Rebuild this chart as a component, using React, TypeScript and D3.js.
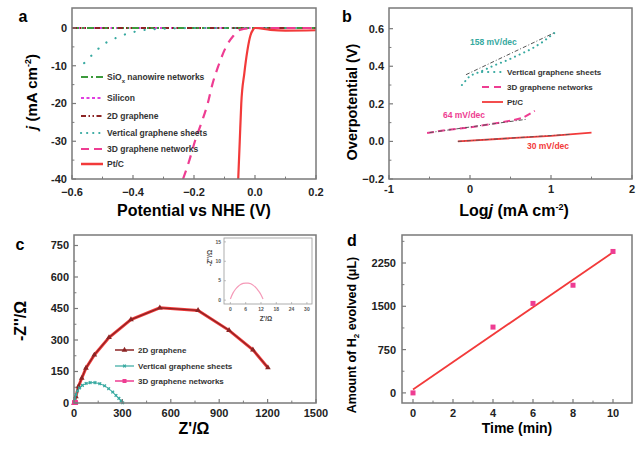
import * as d3 from "d3"

const FONT = "'Liberation Sans', Arial, sans-serif"

// ---- panel a : polarization curves ----
const aPotFlat = [-0.6, 0.2]
const aCurFlat = [0, 0]
const aPotVGS = [-0.56, -0.525, -0.5, -0.466, -0.433, -0.4, -0.37, -0.3, -0.2, -0.1, 0, 0.1, 0.2]
const aCurVGS = [-9.3, -6.4, -4.5, -3, -1.9, -1.1, -0.6, -0.2, 0, 0, 0, 0, 0]
const aPot3D = [-0.236, -0.215, -0.197, -0.175, -0.155, -0.14, -0.12, -0.095, -0.07, -0.05, 0.0, 0.1, 0.2]
const aCur3D = [-40, -35, -30, -25, -20, -15, -10, -5, -2, -0.5, 0, 0, 0]
const aPotPt = [-0.055, -0.05, -0.045, -0.035, -0.025, -0.015, -0.006, 0.0, 0.05, 0.1, 0.2]
const aCurPt = [-40, -30, -20, -12, -6, -2, -0.4, 0, -0.5, -0.7, -0.6]
const aXTicks = [-0.6, -0.4, -0.2, 0.0, 0.2]
const aYTicks = [0, -10, -20, -30, -40]

// ---- panel b : Tafel plots ----
const bLogVGS = [-0.1, 0.0, 0.15, 0.3, 0.45, 0.6, 0.75, 0.9, 1.05]
const bEtaVGS = [0.3, 0.35, 0.375, 0.405, 0.43, 0.46, 0.49, 0.53, 0.58]
const bFitVGSx = [-0.05, 1.05]
const bFitVGSy = [0.355, 0.58]
const bLog3D = [-0.53, -0.3, 0, 0.3, 0.5, 0.65, 0.8]
const bEta3D = [0.045, 0.06, 0.075, 0.095, 0.11, 0.125, 0.163]
const bFit3Dx = [-0.5, 0.7]
const bFit3Dy = [0.047, 0.118]
const bLogPt = [-0.15, 0.5, 1.0, 1.5]
const bEtaPt = [0, 0.017, 0.03, 0.047]
const bFitPtx = [-0.15, 1.25]
const bFitPty = [0, 0.038]
const bXTicks = [-1, 0, 1, 2]
const bYTicks = [-0.2, 0.0, 0.2, 0.4, 0.6]

// ---- panel c : Nyquist plots ----
const cRe2D = [0, 12, 27, 48, 74, 126, 217, 353, 532, 769, 961, 1109, 1202]
const cIm2D = [0, 30, 78, 118, 166, 229, 312, 397, 453, 441, 346, 253, 168]
const cReVGS = [0, 5, 12, 22, 35, 52, 75, 100, 130, 160, 190, 215, 240, 260, 278, 292, 302]
const cImVGS = [0, 20, 40, 58, 72, 84, 93, 97, 97, 92, 82, 68, 52, 36, 22, 10, 1]
const cRe3D = [0, 1, 2, 3, 4, 5, 6, 7, 8, 9, 10, 11, 12, 12.8]
const cIm3D = [0.3, 1.8, 2.8, 3.5, 4.0, 4.3, 4.4, 4.4, 4.2, 3.8, 3.2, 2.4, 1.4, 0.3]
const cXTicks = [0, 300, 600, 900, 1200, 1500]
const cYTicks = [0, 150, 300, 450, 600, 750]
const insetXTicks = [0, 6, 12, 18, 24, 30]
const insetYTicks = [0, 5, 10, 15]

// ---- panel d : H2 evolution ----
const dTime = [0, 4, 6, 8, 10]
const dAmount = [0, 1140, 1550, 1865, 2450]
const dFitT = [0, 10]
const dFitA = [60, 2435]
const dXTicks = [0, 2, 4, 6, 8, 10]
const dYTicks = [0, 750, 1500, 2250]

const C = {
  pt: "#f23a3a",
  g3d: "#ee3d92",
  vgs: "#36a9a0",
  sio2: "#3c9a3c",
  si: "#e03fe0",
  g2d: "#8c2424",
  fit: "#555",
  frame: "#7a7a7a",
}

type Sc = d3.ScaleLinear<number, number>

function pts(xs: number[], ys: number[]): [number, number][] {
  return xs.map((v, i) => [v, ys[i]])
}

function Frame({ x, y, xTicks, yTicks, xMinor, yMinor, fmtX, fmtY, fs = 11, tl = 4, xLabY, yLabX, sw = 1.5, color = C.frame }: any) {
  const [x0, x1] = x.range()
  const [y0, y1] = y.range()
  return (
    <g fontFamily={FONT}>
      <rect x={x0} y={y1} width={x1 - x0} height={y0 - y1} fill="none" stroke={color} strokeWidth={sw} />
      {xMinor.map((t: number, i: number) => (
        <line key={"xm" + i} x1={x(t)} x2={x(t)} y1={y0} y2={y0 - tl * 0.6} stroke={color} strokeWidth={1} />
      ))}
      {yMinor.map((t: number, i: number) => (
        <line key={"ym" + i} x1={x0} x2={x0 + tl * 0.6} y1={y(t)} y2={y(t)} stroke={color} strokeWidth={1} />
      ))}
      {xTicks.map((t: number, i: number) => (
        <g key={"xt" + i}>
          <line x1={x(t)} x2={x(t)} y1={y0} y2={y0 - tl} stroke={color} strokeWidth={1.2} />
          <text x={x(t)} y={xLabY} textAnchor="middle" fontSize={fs} fontWeight="bold" fill="#222">{fmtX(t)}</text>
        </g>
      ))}
      {yTicks.map((t: number, i: number) => (
        <g key={"yt" + i}>
          <line x1={x0} x2={x0 + tl} y1={y(t)} y2={y(t)} stroke={color} strokeWidth={1.2} />
          <text x={yLabX} y={y(t)} dy="0.36em" textAnchor="end" fontSize={fs} fontWeight="bold" fill="#222">{fmtY(t)}</text>
        </g>
      ))}
    </g>
  )
}

function Curve({ x, y, xs, ys, stroke, w = 2, dash, curve = d3.curveMonotoneX, cap = "butt" }: any) {
  const line = d3.line<[number, number]>().x(d => x(d[0])).y(d => y(d[1])).curve(curve)
  return <path d={line(pts(xs, ys)) || ""} fill="none" stroke={stroke} strokeWidth={w} strokeDasharray={dash} strokeLinecap={cap} />
}

function LegendRow({ x, y, len, stroke, dash, w = 2, cap = "butt", label, fs = 8.5, marker }: any) {
  return (
    <g>
      <line x1={x} x2={x + len} y1={y} y2={y} stroke={stroke} strokeWidth={w} strokeDasharray={dash} strokeLinecap={cap} />
      {marker}
      <text x={x + len + 4} y={y} dy="0.35em" fontSize={fs} fontWeight="bold" fill="#333" fontFamily={FONT}>{label}</text>
    </g>
  )
}

function PanelA() {
  const x: Sc = d3.scaleLinear([-0.6, 0.2], [72, 316])
  const y: Sc = d3.scaleLinear([-40, 5.3], [179, 8])
  const clip = "clipA"
  return (
    <g>
      <clipPath id={clip}><rect x={72} y={8} width={244} height={171} /></clipPath>
      <g clipPath={`url(#${clip})`}>
        <Curve x={x} y={y} xs={aPotFlat} ys={aCurFlat} stroke={C.si} dash="2.5 3" curve={d3.curveLinear} />
        <Curve x={x} y={y} xs={aPotFlat} ys={aCurFlat} stroke={C.sio2} dash="7 3 2 3" curve={d3.curveLinear} />
        <Curve x={x} y={y} xs={aPotFlat} ys={aCurFlat} stroke={C.g2d} dash="5 3 1.5 3 1.5 9" curve={d3.curveLinear} />
        <Curve x={x} y={y} xs={aPotVGS} ys={aCurVGS} stroke={C.vgs} w={2.2} dash="0.1 10" cap="round" />
        <Curve x={x} y={y} xs={aPot3D} ys={aCur3D} stroke={C.g3d} w={2.2} dash="9 7" />
        <Curve x={x} y={y} xs={aPotPt} ys={aCurPt} stroke={C.pt} w={2.2} />
      </g>
      <Frame x={x} y={y} xTicks={aXTicks} yTicks={aYTicks}
        xMinor={d3.range(-0.5, 0.2, 0.2)} yMinor={[-5, -15, -25, -35]}
        fmtX={(t: number) => t === 0 ? "0.0" : d3.format(".1f")(t)} fmtY={(t: number) => String(t)}
        xLabY={196} yLabX={67} />
      <LegendRow x={81} y={77} len={22} stroke={C.sio2} dash="7 3 2 3" label={<>SiO<tspan fontSize={6} dy={3}>x</tspan><tspan dy={-3}> nanowire networks</tspan></>} />
      <LegendRow x={81} y={98} len={22} stroke={C.si} dash="3 2.5" label="Silicon" />
      <LegendRow x={81} y={116} len={22} stroke={C.g2d} dash="5 2.5 1.5 2.5 1.5 2.5" label="2D graphene" />
      <LegendRow x={81} y={133} len={22} stroke={C.vgs} dash="0.1 6" w={2.2} cap="round" label="Vertical graphene sheets" />
      <LegendRow x={81} y={149} len={22} stroke={C.g3d} dash="8 5" label="3D graphene networks" />
      <LegendRow x={81} y={164} len={22} stroke={C.pt} w={2.5} label="Pt/C" />
      <text x={23} y={22} fontSize={16} fontWeight="bold" fontFamily={FONT} textAnchor="middle">a</text>
      <text transform="translate(32,92) rotate(-90)" textAnchor="middle" dy="0.35em" fontSize={15} fontWeight="bold" fontFamily={FONT}>
        <tspan fontStyle="italic">j</tspan> (mA cm<tspan fontSize={9} dy={-6}>-2</tspan><tspan dy={6}>)</tspan>
      </text>
      <text x={194} y={216} textAnchor="middle" fontSize={16} fontWeight="bold" fontFamily={FONT}>Potential vs NHE (V)</text>
    </g>
  )
}

function PanelB() {
  const x: Sc = d3.scaleLinear([-1, 2], [389, 632])
  const y: Sc = d3.scaleLinear([-0.2, 0.71], [179, 8])
  return (
    <g>
      <Curve x={x} y={y} xs={bLogVGS} ys={bEtaVGS} stroke={C.vgs} w={2} dash="0.1 5" cap="round" curve={d3.curveLinear} />
      <Curve x={x} y={y} xs={bFitVGSx} ys={bFitVGSy} stroke={C.fit} w={1} dash="4 2 1 2" curve={d3.curveLinear} />
      <Curve x={x} y={y} xs={bLog3D} ys={bEta3D} stroke={C.g3d} w={2} dash="7 4" curve={d3.curveLinear} />
      <Curve x={x} y={y} xs={bFit3Dx} ys={bFit3Dy} stroke={C.fit} w={1} dash="4 2 1 2" curve={d3.curveLinear} />
      <Curve x={x} y={y} xs={bLogPt} ys={bEtaPt} stroke={C.pt} w={1.8} curve={d3.curveLinear} />
      <Curve x={x} y={y} xs={bFitPtx} ys={bFitPty} stroke={C.fit} w={0.9} dash="4 2 1 2" curve={d3.curveLinear} />
      <Frame x={x} y={y} xTicks={bXTicks} yTicks={bYTicks}
        xMinor={[-0.5, 0.5, 1.5]} yMinor={[-0.1, 0.1, 0.3, 0.5]}
        fmtX={(t: number) => String(t)} fmtY={(t: number) => d3.format(".1f")(t)}
        xLabY={193} yLabX={384} />
      <text x={470} y={45} fontSize={8.5} fontWeight="bold" fill={C.vgs} fontFamily={FONT}>158 mV/dec</text>
      <text x={443} y={118} fontSize={8.5} fontWeight="bold" fill={C.g3d} fontFamily={FONT}>64 mV/dec</text>
      <text x={527} y={149} fontSize={8.5} fontWeight="bold" fill={C.pt} fontFamily={FONT}>30 mV/dec</text>
      <LegendRow x={482} y={72} len={21} stroke={C.vgs} dash="0.1 6" w={2.2} cap="round" label="Vertical graphene sheets" fs={8} />
      <LegendRow x={482} y={87} len={21} stroke={C.g3d} dash="7 5" label="3D graphene networks" fs={8} />
      <LegendRow x={482} y={102} len={21} stroke={C.pt} w={1.8} label="Pt/C" fs={8} />
      <text x={347} y={22} fontSize={16} fontWeight="bold" fontFamily={FONT} textAnchor="middle">b</text>
      <text transform="translate(352,102) rotate(-90)" textAnchor="middle" dy="0.35em" fontSize={14.5} fontWeight="bold" fontFamily={FONT}>Overpotential (V)</text>
      <text x={514} y={216} textAnchor="middle" fontSize={16} fontWeight="bold" fontFamily={FONT}>
        Log<tspan fontStyle="italic">j</tspan> (mA cm<tspan fontSize={9} dy={-6}>-2</tspan><tspan dy={6}>)</tspan>
      </text>
    </g>
  )
}

function PanelC() {
  const x: Sc = d3.scaleLinear([0, 1500], [74, 316])
  const y: Sc = d3.scaleLinear([0, 800], [403, 235])
  const xi: Sc = d3.scaleLinear([-2.5, 32], [224, 312])
  const yi: Sc = d3.scaleLinear([-1, 16], [304, 238])
  const tri = d3.symbol(d3.symbolTriangle, 14)()
  const star = d3.symbol(d3.symbolCross, 8)()
  return (
    <g>
      <Curve x={x} y={y} xs={cRe2D} ys={cIm2D} stroke={C.pt} w={3} curve={d3.curveLinear} />
      <Curve x={x} y={y} xs={cRe2D} ys={cIm2D} stroke={C.g2d} w={1.2} curve={d3.curveLinear} />
      {cRe2D.map((v, i) => (
        <path key={i} d={tri || ""} transform={`translate(${x(v)},${y(cIm2D[i])})`} fill={C.g2d} />
      ))}
      <Curve x={x} y={y} xs={cReVGS} ys={cImVGS} stroke={C.vgs} w={1} curve={d3.curveLinear} />
      {cReVGS.map((v, i) => (
        <path key={i} d={star || ""} transform={`translate(${x(v)},${y(cImVGS[i])}) rotate(45)`} fill={C.vgs} />
      ))}
      {cRe3D.map((v, i) => (
        <rect key={i} x={x(v) - 2} y={y(cIm3D[i]) - 2} width={4} height={4} fill={C.g3d} />
      ))}
      <Frame x={x} y={y} xTicks={cXTicks} yTicks={cYTicks}
        xMinor={[150, 450, 750, 1050, 1350]} yMinor={[75, 225, 375, 525, 675]}
        fmtX={(t: number) => String(t)} fmtY={(t: number) => String(t)}
        xLabY={417} yLabX={69} />
      {/* inset */}
      <rect x={224} y={238} width={88} height={66} fill="#fff" stroke="#999" strokeWidth={0.8} />
      <Curve x={xi} y={yi} xs={cRe3D} ys={cIm3D} stroke="#f59ab8" w={1.2} />
      {insetXTicks.map(t => (
        <g key={t}>
          <line x1={xi(t)} x2={xi(t)} y1={304} y2={302} stroke="#999" strokeWidth={0.6} />
          <text x={xi(t)} y={311} textAnchor="middle" fontSize={5} fontWeight="bold" fill="#555" fontFamily={FONT}>{t}</text>
        </g>
      ))}
      {insetYTicks.map(t => (
        <g key={t}>
          <line x1={224} x2={226} y1={yi(t)} y2={yi(t)} stroke="#999" strokeWidth={0.6} />
          <text x={221} y={yi(t)} dy="0.35em" textAnchor="end" fontSize={5} fontWeight="bold" fill="#555" fontFamily={FONT}>{t}</text>
        </g>
      ))}
      <text transform="translate(212,258) rotate(-90)" textAnchor="middle" fontSize={6.5} fontWeight="bold" fill="#444" fontFamily={FONT}>-Z''/Ω</text>
      <text x={266} y={321} textAnchor="middle" fontSize={6.5} fontWeight="bold" fill="#444" fontFamily={FONT}>Z'/Ω</text>
      <LegendRow x={115} y={350} len={19} stroke={C.g2d} w={1.5} label="2D graphene" fs={8}
        marker={<path d={tri || ""} transform="translate(124.5,350)" fill={C.g2d} />} />
      <LegendRow x={115} y={366} len={19} stroke={C.vgs} w={1.2} label="Vertical graphene sheets" fs={8}
        marker={<path d={star || ""} transform="translate(124.5,366) rotate(45)" fill={C.vgs} />} />
      <LegendRow x={115} y={381} len={19} stroke={C.g3d} w={1.5} label="3D graphene networks" fs={8}
        marker={<rect x={122.5} y={379} width={4} height={4} fill={C.g3d} />} />
      <text x={20} y={250} fontSize={16} fontWeight="bold" fontFamily={FONT} textAnchor="middle">c</text>
      <text transform="translate(20,321) rotate(-90)" textAnchor="middle" dy="0.35em" fontSize={16} fontWeight="bold" fontFamily={FONT}>-Z''/Ω</text>
      <text x={194} y={434} textAnchor="middle" fontSize={16} fontWeight="bold" fontFamily={FONT}>Z'/Ω</text>
    </g>
  )
}

function PanelD() {
  const x: Sc = d3.scaleLinear([-0.55, 10.95], [402, 632])
  const y: Sc = d3.scaleLinear([-175, 2735], [403, 235])
  return (
    <g>
      <Curve x={x} y={y} xs={dFitT} ys={dFitA} stroke={C.pt} w={1.8} curve={d3.curveLinear} />
      {dTime.map((t, i) => (
        <rect key={i} x={x(t) - 2.5} y={y(dAmount[i]) - 2.5} width={5} height={5} fill={C.g3d} />
      ))}
      <Frame x={x} y={y} xTicks={dXTicks} yTicks={dYTicks}
        xMinor={[1, 3, 5, 7, 9]} yMinor={[375, 1125, 1875, 2625]}
        fmtX={(t: number) => String(t)} fmtY={(t: number) => String(t)}
        xLabY={417} yLabX={396} />
      <text x={352} y={246} fontSize={16} fontWeight="bold" fontFamily={FONT} textAnchor="middle">d</text>
      <text transform="translate(352,335) rotate(-90)" textAnchor="middle" dy="0.35em" fontSize={12.5} fontWeight="bold" fontFamily={FONT}>
        Amount of H<tspan fontSize={8} dy={3}>2</tspan><tspan dy={-3}> evolved (μL)</tspan>
      </text>
      <text x={517} y={433} textAnchor="middle" fontSize={14} fontWeight="bold" fontFamily={FONT}>Time (min)</text>
    </g>
  )
}

export default function App() {
  return (
    <svg width={636} height={450} style={{ position: "absolute", left: 0, top: 0, background: "#fff" }}>
      <rect width={636} height={450} fill="#fff" />
      <PanelA />
      <PanelB />
      <PanelC />
      <PanelD />
    </svg>
  )
}
